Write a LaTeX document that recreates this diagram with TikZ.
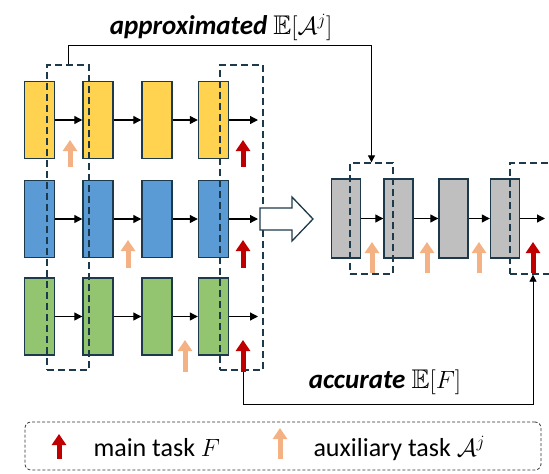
\documentclass[tikz,border=0pt]{standalone}
\usepackage{fontspec}
\setmainfont{Carlito}
\usepackage{amssymb}
\usetikzlibrary{arrows.meta}
\definecolor{cellyellow}{HTML}{FFD24F}
\definecolor{cellblue}{HTML}{5B9BD5}
\definecolor{cellgreen}{HTML}{93C46F}
\definecolor{cellgrey}{HTML}{BFBFBF}
\definecolor{celledge}{HTML}{1C3A4B}
\definecolor{maincol}{HTML}{C00000}
\definecolor{auxcol}{HTML}{F4B183}
\begin{document}
\begin{tikzpicture}[
    x=1pt, y=-1pt,
    cell/.style={
        draw=celledge,
        line width=1.4pt,
        minimum width=30pt,
        minimum height=77pt,
        inner sep=0pt,
    },
    flow/.style={line width=1.2pt, -{Triangle[length=8pt,width=8pt]}},
    group/.style={
        draw=celledge,
        line width=1.3pt,
        dash pattern=on 7pt off 4pt,
        inner sep=0pt,
    },
    mainarrow/.style={maincol, line width=5pt, -{Triangle[length=11pt,width=14pt]}},
    auxarrow/.style={auxcol, line width=5pt, -{Triangle[length=11pt,width=14pt]}},
    link/.style={line width=0.8pt, -{Triangle[length=7pt,width=7pt]}},
    lbl/.style={font=\fontsize{27}{30}\selectfont\bfseries\itshape},
    legtext/.style={font=\fontsize{26}{30}\selectfont, anchor=west},
    ]
    \useasboundingbox (0,0) rectangle (549,474);
    % left: three runs
    \node[cell, fill=cellyellow] (y1) at (39.5,120) {};
    \node[cell, fill=cellyellow] (y2) at (98,120) {};
    \node[cell, fill=cellyellow] (y3) at (157,120) {};
    \node[cell, fill=cellyellow] (y4) at (213.5,120) {};
    \node[cell, fill=cellblue] (b1) at (39.5,219) {};
    \node[cell, fill=cellblue] (b2) at (98,219) {};
    \node[cell, fill=cellblue] (b3) at (157,219) {};
    \node[cell, fill=cellblue] (b4) at (213.5,219) {};
    \node[cell, fill=cellgreen] (g1) at (39.5,316.5) {};
    \node[cell, fill=cellgreen] (g2) at (98,316.5) {};
    \node[cell, fill=cellgreen] (g3) at (157,316.5) {};
    \node[cell, fill=cellgreen] (g4) at (213.5,316.5) {};
    \coordinate (yo) at (258,120);
    \coordinate (bo) at (258,219);
    \coordinate (go) at (258,316.5);
    \draw[flow] (y1) -- (y2);
    \draw[flow] (y2) -- (y3);
    \draw[flow] (y3) -- (y4);
    \draw[flow] (y4.east) -- (yo);
    \draw[flow] (b1) -- (b2);
    \draw[flow] (b2) -- (b3);
    \draw[flow] (b3) -- (b4);
    \draw[flow] (b4.east) -- (bo);
    \draw[flow] (g1) -- (g2);
    \draw[flow] (g2) -- (g3);
    \draw[flow] (g3) -- (g4);
    \draw[flow] (g4.east) -- (go);
    % right: merged run
    \node[cell, fill=cellgrey, minimum width=29pt, minimum height=79pt] (s1) at (346,218.5) {};
    \node[cell, fill=cellgrey, minimum width=29pt, minimum height=79pt] (s2) at (398.5,218.5) {};
    \node[cell, fill=cellgrey, minimum width=29pt, minimum height=79pt] (s3) at (453.5,218.5) {};
    \node[cell, fill=cellgrey, minimum width=29pt, minimum height=79pt] (s4) at (505,218.5) {};
    \coordinate (so) at (545,218.5);
    \draw[flow] (s1) -- (s2);
    \draw[flow] (s2) -- (s3);
    \draw[flow] (s3) -- (s4);
    \draw[flow] (s4.east) -- (so);
    % dashed groups
    \node[group, minimum width=42pt, minimum height=305pt] (ga) at (68,217.5) {};
    \node[group, minimum width=43pt, minimum height=305pt] (gb) at (241.5,217.5) {};
    \node[group, minimum width=43pt, minimum height=111pt] (gc) at (371.5,218.5) {};
    \node[group, minimum width=46pt, minimum height=111pt] (gd) at (533,218.5) {};
    % hollow arrow
    \draw[celledge, line width=1.3pt, fill=white]
        (260,208) -- (292,208) -- (292,197) -- (313,219) -- (292,241)
        -- (292,230) -- (260,230) -- cycle;
    % task arrows
    \draw[auxarrow] (70,167) -- (70,140);
    \draw[mainarrow] (243,167) -- (243,140);
    \draw[auxarrow] (128,268) -- (128,240);
    \draw[mainarrow] (243,268) -- (243,240);
    \coordinate (m3) at (243,372);
    \draw[auxarrow] (185,372) -- (185,340);
    \draw[mainarrow] (m3) -- (243,340);
    \draw[auxarrow] (372,273) -- (372,242);
    \draw[auxarrow] (427,273) -- (427,242);
    \draw[auxarrow] (479,273) -- (479,242);
    \draw[mainarrow] (533,273) -- (533,242);
    % links
    \draw[link] (ga.north) -- ++(0,-19) -| (gc.north);
    \draw[link] (m3) -- ++(0,32) -| (gd.south);
    \node[lbl] (tapprox) at (221,27) {approximated $\mathbb{E}[\mathcal{A}^j]$};
    \node[lbl] (tacc) at (385,382) {accurate $\mathbb{E}[F]$};
    % legend
    \node[draw=black!80, line width=0.8pt, dash pattern=on 3pt off 2pt,
        rounded corners=6pt, minimum width=516pt, minimum height=48pt] (legend) at (283,446) {};
    \draw[mainarrow] (59,459) -- (59,434);
    \node[legtext] (tmain) at (90,448) {main task $F$};
    \draw[auxarrow] (280,459) -- (280,428);
    \node[legtext] (taux) at (310,448) {auxiliary task $\mathcal{A}^j$};
\end{tikzpicture}
\end{document}
